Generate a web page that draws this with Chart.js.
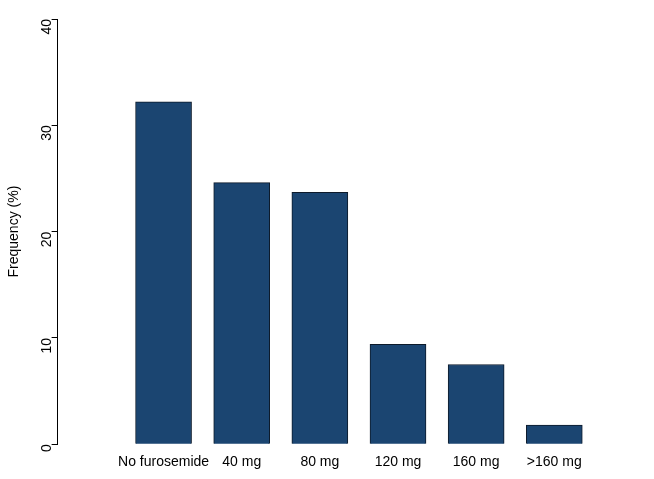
<!DOCTYPE html>
<html>
<head>
<meta charset="utf-8">
<script src="https://cdn.jsdelivr.net/npm/chart.js@4"></script>
<style>
  html, body { margin: 0; padding: 0; background: #fff; }
  #wrap { width: 654px; height: 479px; }
</style>
</head>
<body>
<div id="wrap"><canvas id="chart"></canvas></div>
<script>
const categories = ['No furosemide', '40 mg', '80 mg', '120 mg', '160 mg', '>160 mg'];
const frequency = [32.2, 24.6, 23.7, 9.4, 7.5, 1.8];
const yTicks = [0, 10, 20, 30, 40];

const ctx = document.getElementById('chart').getContext('2d');
new Chart(ctx, {
    type: 'bar',
    data: {
        datasets: [{
            label: 'Frequency (%)',
            data: frequency.map((v, i) => ({ x: i, y: v })),
            backgroundColor: '#1b4571',
            borderColor: '#0d1a2a',
            borderWidth: 1,
            barThickness: 56,
        }],
    },
    options: {
        responsive: true,
        maintainAspectRatio: false,
        animation: false,
        devicePixelRatio: 1,
        layout: { padding: { top: 19, right: 0, left: 6, bottom: 6 } },
        plugins: { legend: { display: false }, tooltip: { enabled: false } },
        scales: {
            x: {
                type: 'linear',
                bounds: 'data',
                min: -0.72,
                max: 5.64,
                afterDataLimits: (axis) => { axis.min = -0.72; axis.max = 5.64; },
                afterBuildTicks: (axis) => { axis.ticks = categories.map((c, i) => ({ value: i })); },
                ticks: {
                    callback: (v) => categories[v],
                    color: '#000',
                    font: { family: 'Liberation Sans', size: 14 },
                    maxRotation: 0,
                    autoSkip: false,
                    padding: 2,
                },
                grid: { display: false },
                border: { display: false },
            },
            y: {
                min: 0,
                max: 40,
                afterBuildTicks: (axis) => { axis.ticks = yTicks.map(v => ({ value: v })); },
                ticks: {
                    color: '#000',
                    font: { family: 'Liberation Sans', size: 14 },
                    minRotation: 90,
                    maxRotation: 90,
                    padding: 4,
                },
                grid: { drawOnChartArea: false, tickLength: 6, color: '#000' },
                border: { display: true, color: '#000', width: 1 },
                title: {
                    display: true,
                    text: 'Frequency (%)',
                    color: '#000',
                    font: { family: 'Liberation Sans', size: 14 },
                    padding: { top: 0, bottom: 4 },
                },
            },
        },
    },
});
</script>
</body>
</html>
